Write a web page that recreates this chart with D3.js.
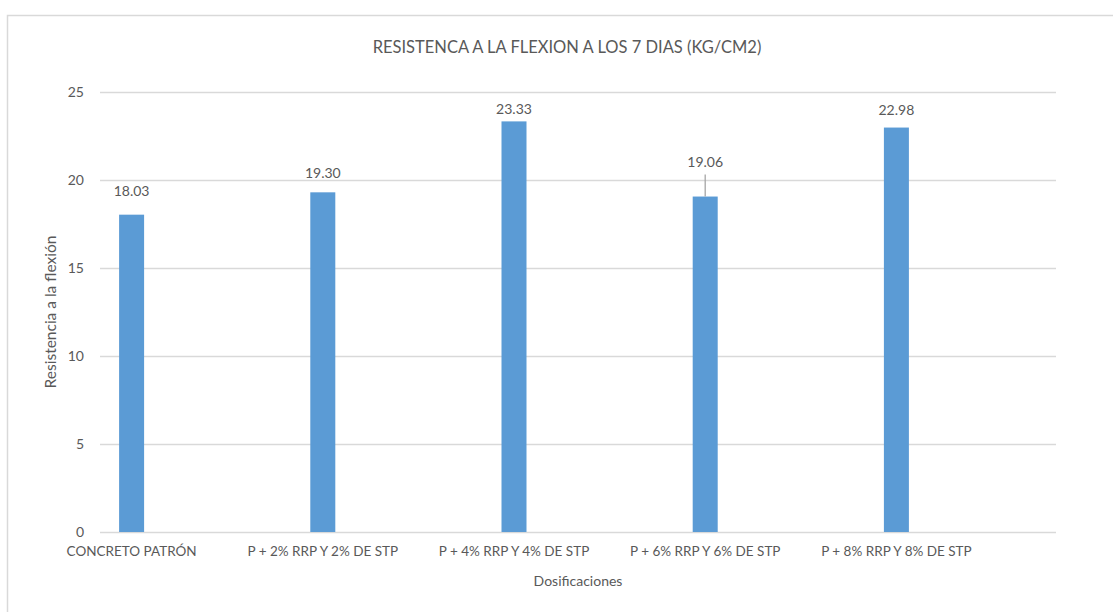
<!DOCTYPE html>
<html>
<head>
<meta charset="utf-8">
<script src="https://cdn.jsdelivr.net/npm/d3@7"></script>
<style>
  html, body { margin: 0; padding: 0; background: #fff; }
  svg { display: block; font-family: Lato, "Open Sans", sans-serif; }
</style>
</head>
<body>
<svg id="chart" width="1113" height="612"></svg>
<script>
// ---- data ----
const categories = [
  "CONCRETO PATRÓN",
  "P + 2% RRP Y 2% DE STP",
  "P + 4% RRP Y 4% DE STP",
  "P + 6% RRP Y 6% DE STP",
  "P + 8% RRP Y 8% DE STP"
];
const values = [18.03, 19.30, 23.33, 19.06, 22.98];
const valueLabels = ["18.03", "19.30", "23.33", "19.06", "22.98"];
const yTicks = [0, 5, 10, 15, 20, 25];
const titleText = "RESISTENCA A LA FLEXION A LOS 7 DIAS (KG/CM2)";
const xTitle = "Dosificaciones";
const yTitle = "Resistencia a la flexión";

// ---- layout / style ----
const W = 1113, H = 612;
const textColor = "#595959";
const barColor = "#5b9bd5";
const gridColor = "#d9d9d9";
const plot = { left: 100, right: 1056, top: 92, bottom: 532 };
const barW = 25;
// manual label lift above bar top (px), as positioned in the original
const labelLift = [24, 19.5, 12, 34, 17.5];

const svg = d3.select("#chart");

// chart border
svg.append("rect")
  .attr("x", 7.5).attr("y", 15.5)
  .attr("width", W + 10).attr("height", H + 10)
  .attr("fill", "none").attr("stroke", gridColor).attr("stroke-width", 1.5);

const x = d3.scaleBand()
  .domain(categories)
  .range([36, 992]);

const y = d3.scaleLinear()
  .domain([0, 25])
  .range([plot.bottom, plot.top]);

// gridlines
const yAxis = d3.axisLeft(y)
  .tickValues(yTicks)
  .tickSize(-(plot.right - plot.left))
  .tickPadding(16)
  .tickFormat(d3.format("d"));

const gy = svg.append("g")
  .attr("transform", `translate(${plot.left},0)`)
  .call(yAxis);
gy.select(".domain").remove();
gy.selectAll(".tick line").attr("stroke", gridColor).attr("stroke-width", 1.3);
gy.selectAll(".tick text")
  .attr("fill", textColor)
  .attr("font-size", 14)
  .attr("font-family", "Lato, sans-serif");

// bars
svg.append("g").selectAll("rect")
  .data(values)
  .join("rect")
  .attr("x", (d, i) => x(categories[i]) + x.bandwidth() / 2 - barW / 2)
  .attr("width", barW)
  .attr("y", d => y(d))
  .attr("height", d => y(0) - y(d))
  .attr("fill", barColor);

// leader line for moved label (4th)
const li = 3;
svg.append("line")
  .attr("x1", x(categories[li]) + x.bandwidth() / 2)
  .attr("x2", x(categories[li]) + x.bandwidth() / 2)
  .attr("y1", y(values[li]) - labelLift[li] + 12)
  .attr("y2", y(values[li]))
  .attr("stroke", "#a6a6a6").attr("stroke-width", 1.3);

// value labels
svg.append("g").selectAll("text")
  .data(values)
  .join("text")
  .attr("x", (d, i) => x(categories[i]) + x.bandwidth() / 2)
  .attr("y", (d, i) => y(d) - labelLift[i])
  .attr("dy", "0.35em")
  .attr("text-anchor", "middle")
  .attr("fill", textColor)
  .attr("font-size", 14)
  .text((d, i) => valueLabels[i]);

// x axis labels
const xAxis = d3.axisBottom(x).tickSize(0).tickPadding(14);
const gx = svg.append("g")
  .attr("transform", `translate(0,${plot.bottom})`)
  .call(xAxis);
gx.select(".domain").remove();
gx.selectAll(".tick text")
  .attr("fill", textColor)
  .attr("font-size", 13.5)
  .attr("font-family", "Lato, sans-serif");

// title
svg.append("text")
  .attr("x", 567).attr("y", 53)
  .attr("text-anchor", "middle")
  .attr("fill", textColor)
  .attr("font-size", 16.5)
  .text(titleText);

// axis titles
svg.append("text")
  .attr("x", 578).attr("y", 581)
  .attr("dy", "0.35em")
  .attr("text-anchor", "middle")
  .attr("fill", textColor)
  .attr("font-size", 14)
  .text(xTitle);

svg.append("text")
  .attr("transform", "translate(51,312) rotate(-90)")
  .attr("dy", "0.35em")
  .attr("text-anchor", "middle")
  .attr("fill", textColor)
  .attr("font-size", 15.5)
  .text(yTitle);
</script>
</body>
</html>
